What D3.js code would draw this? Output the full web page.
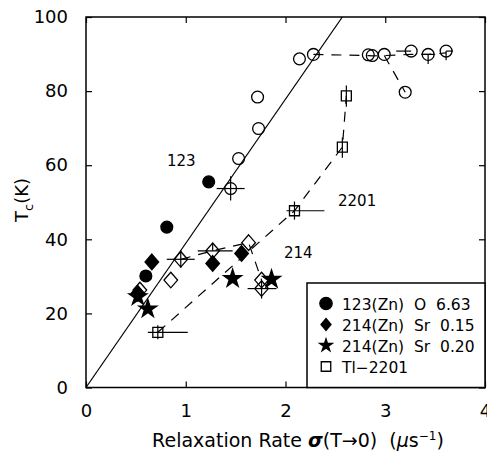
<!DOCTYPE html>
<html><head><meta charset="utf-8">
<script src="https://cdn.jsdelivr.net/npm/d3@7"></script>
<style>body{margin:0;background:#fff}svg{display:block}text{font-family:"DejaVu Sans",sans-serif;fill:#000}</style>
</head><body><svg id="c" width="487" height="453"></svg>
<script>
// Data
const xTicks = [0,1,2,3,4];
const yTicks = [0,20,40,60,80,100];
// 123 open circles (pure): sigma, Tc
const c123pureX = [1.45,1.53,1.73,1.72,2.14,2.28,2.83,2.87,2.99,3.20,3.26,3.43,3.61];
const c123pureY = [53.7,61.8,69.9,78.4,88.7,89.9,89.8,89.6,89.9,79.7,90.8,89.9,90.8];
// 123(Zn) filled circles
const c123znX = [0.60,0.81,1.23];
const c123znY = [30.1,43.3,55.5];
// 214 open diamonds (pure Sr)
const d214pureX = [0.54,0.85,0.95,1.27,1.63,1.76,1.76];
const d214pureY = [26.3,29.0,34.6,36.9,39.1,29.0,26.7];
// 214(Zn) Sr 0.15 filled diamonds
const d214znX = [0.52,0.66,1.27,1.56];
const d214znY = [25.4,33.9,33.5,36.2];
// 214(Zn) Sr 0.20 stars
const s214X = [0.52,0.62,1.47,1.86];
const s214Y = [24.5,21.2,29.4,29.2];
// Tl-2201 open squares
const tlX = [0.72,2.09,2.57,2.61];
const tlY = [14.9,47.7,64.9,78.7];
// error bars: [x, y, xlo, xhi, ylo, yhi]
const errBars = [
  [1.45,53.7,1.31,1.59,50.5,57],
  [3.26,90.8,3.11,3.26,90.8,90.8],
  [3.43,89.9,3.36,3.50,87.3,89.9],
  [3.61,90.8,3.61,3.68,88.3,90.8],
  [0.95,34.6,0.81,1.09,32.3,37],
  [1.27,36.9,1.12,1.47,36.9,39],
  [1.76,26.7,1.62,1.91,24,29],
  [0.72,14.9,0.62,1.02,13,16.8],
  [2.09,47.7,2.01,2.39,45.3,50.2],
  [2.57,64.9,2.57,2.57,62,67.5],
  [2.61,78.7,2.61,2.61,75.8,81.5]
];
// dashed connecting lines
const dashPureTopX = [2.28,2.83,2.87,2.99,3.26,3.43,3.61];
const dashPureTopY = [89.9,89.6,89.5,89.6,89.9,89.9,90.3];
const dashPureDropX = [2.99,3.20];
const dashPureDropY = [89.6,79.7];
const dash214X = [0.95,1.27,1.63,1.76];
const dash214Y = [34.6,36.9,39.1,29.0];
const dashTlX = tlX;
const dashTlY = tlY;
// solid line Tc ∝ sigma
const solidX = [0,2.57];
const solidY = [0,100];
const legendLabels = ["123(Zn)  O  6.63","214(Zn)  Sr  0.15","214(Zn)  Sr  0.20","Tl\u22122201"];

const svg = d3.select("#c");
const L=86,R=485,T=17,B=387.5;
const x = d3.scaleLinear().domain([0,4]).range([L,R]);
const y = d3.scaleLinear().domain([0,100]).range([B,T]);
const zip=(a,b)=>a.map((v,i)=>[v,b[i]]);
const line = d3.line().x(d=>x(d[0])).y(d=>y(d[1]));

// frame
svg.append("rect").attr("x",L).attr("y",T).attr("width",R-L).attr("height",B-T).attr("fill","none").attr("stroke","#000").attr("stroke-width",1.5);
// axes ticks inward
const tl=6;
svg.append("g").attr("transform",`translate(0,${B})`).call(d3.axisBottom(x).tickValues(xTicks).tickSize(-tl).tickPadding(tl+11).tickFormat(d3.format("d")))
  .call(g=>{g.select(".domain").remove();g.selectAll("text").attr("font-size",18).attr("font-family","DejaVu Sans");g.selectAll("line").attr("stroke-width",1.2);});
svg.append("g").attr("transform",`translate(0,${T})`).call(d3.axisTop(x).tickValues(xTicks).tickSize(-tl).tickFormat(""))
  .call(g=>{g.select(".domain").remove();g.selectAll("line").attr("stroke-width",1.2);});
svg.append("g").attr("transform",`translate(${L},0)`).call(d3.axisLeft(y).tickValues(yTicks).tickSize(-tl).tickPadding(tl+12))
  .call(g=>{g.select(".domain").remove();g.selectAll("text").attr("font-size",18).attr("font-family","DejaVu Sans");g.selectAll("line").attr("stroke-width",1.2);});
svg.append("g").attr("transform",`translate(${R},0)`).call(d3.axisRight(y).tickValues(yTicks).tickSize(-tl).tickFormat(""))
  .call(g=>{g.select(".domain").remove();g.selectAll("line").attr("stroke-width",1.2);});

const plot = svg.append("g");
svg.append("clipPath").attr("id","cp").append("rect").attr("x",L).attr("y",T).attr("width",R-L).attr("height",B-T);
plot.append("path").attr("clip-path","url(#cp)").attr("d",line(zip(solidX,solidY))).attr("fill","none").attr("stroke","#000").attr("stroke-width",1.2);
const dashed=(xs,ys)=>plot.append("path").attr("d",line(zip(xs,ys))).attr("fill","none").attr("stroke","#000").attr("stroke-width",1.2).attr("stroke-dasharray","10,8");
dashed(dashTlX,dashTlY);
dashed(dash214X,dash214Y);
dashed(dashPureTopX,dashPureTopY);
dashed(dashPureDropX,dashPureDropY);

// error bars
errBars.forEach(e=>{
  if(e[2]!==e[3]) plot.append("line").attr("x1",x(e[2])).attr("x2",x(e[3])).attr("y1",y(e[1])).attr("y2",y(e[1])).attr("stroke","#000").attr("stroke-width",1.2);
  if(e[4]!==e[5]) plot.append("line").attr("x1",x(e[0])).attr("x2",x(e[0])).attr("y1",y(e[4])).attr("y2",y(e[5])).attr("stroke","#000").attr("stroke-width",1.2);
});

// wide diamond (rotated square-like) symbol
const wideDiamond = (w,h)=>({draw(ctx){ctx.moveTo(0,-h);ctx.lineTo(w,0);ctx.lineTo(0,h);ctx.lineTo(-w,0);ctx.closePath();}});
const sym = {
  circle: d3.symbol().type(d3.symbolCircle).size(110),
  diamond: d3.symbol().type(wideDiamond(6.8,7.8)).size(1),
  star: d3.symbol().type(d3.symbolStar).size(100),
  square: d3.symbol().type(d3.symbolSquare).size(100)
};
const drawPts=(xs,ys,s,filled)=>{
  plot.selectAll(null).data(zip(xs,ys)).join("path")
   .attr("transform",d=>`translate(${x(d[0])},${y(d[1])})`).attr("d",s)
   .attr("fill",filled?"#000":"#fff").attr("fill-opacity",filled?1:0).attr("stroke","#000").attr("stroke-width",1.3);
};
drawPts(c123pureX,c123pureY,sym.circle,false);
drawPts(d214pureX,d214pureY,sym.diamond,false);
drawPts(tlX,tlY,sym.square,false);
drawPts(c123znX,c123znY,sym.circle,true);
drawPts(d214znX,d214znY,sym.diamond,true);
drawPts(s214X,s214Y,sym.star,true);

// curve labels
const lab=(t,px,py)=>svg.append("text").attr("x",px).attr("y",py).attr("font-size",15).text(t);
lab("123",167,166);
lab("2201",338,206);
lab("214",284,258);

// legend
const lx=307, ly=283;
svg.append("rect").attr("x",lx).attr("y",ly).attr("width",R-lx).attr("height",B-ly).attr("fill","#fff").attr("stroke","#000").attr("stroke-width",1.5);
const legSyms=[[d3.symbolCircle,120,true],[wideDiamond(5,6),1,true],[d3.symbolStar,50,true],[d3.symbolSquare,90,false]];
legendLabels.forEach((t,i)=>{
  const yy=ly+20.5+i*21;
  svg.append("path").attr("transform",`translate(${lx+19},${yy})`).attr("d",d3.symbol().type(legSyms[i][0]).size(legSyms[i][1]))
    .attr("fill",legSyms[i][2]?"#000":"none").attr("stroke","#000").attr("stroke-width",1.3);
  svg.append("text").attr("x",lx+35).attr("y",yy+6).attr("font-size",15.5).style("white-space","pre").text(t);
});

// axis titles
const xt=svg.append("text").attr("x",298).attr("y",447).attr("text-anchor","middle").attr("font-size",19).style("white-space","pre");
xt.append("tspan").text("Relaxation Rate ");
xt.append("tspan").attr("font-style","italic").attr("font-weight","bold").text("\u03C3");
xt.append("tspan").text("(T\u21920)  (");
xt.append("tspan").attr("font-style","italic").text("\u03BC");
xt.append("tspan").text("s");
xt.append("tspan").attr("dy",-7).attr("font-size",12).text("\u22121");
xt.append("tspan").attr("dy",7).text(")");
const yt=svg.append("text").attr("transform","translate(28,200) rotate(-90)").attr("text-anchor","middle").attr("font-size",18);
yt.append("tspan").text("T");
yt.append("tspan").attr("dy",5).attr("font-size",13).text("c");
yt.append("tspan").attr("dy",-5).text("(K)");
</script></body></html>
